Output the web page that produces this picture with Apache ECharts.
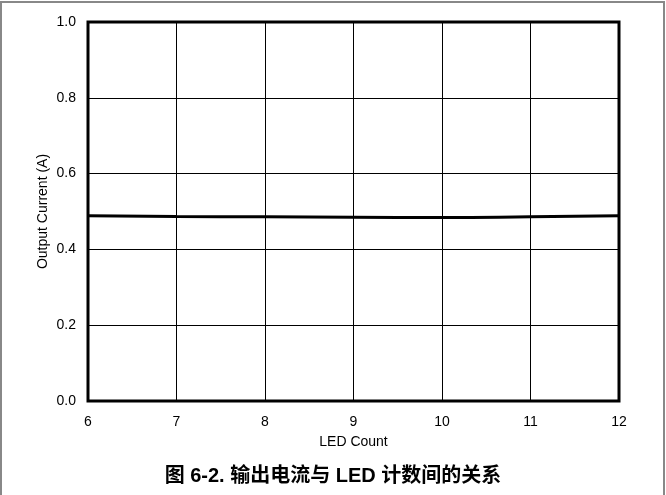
<!DOCTYPE html>
<html>
<head>
<meta charset="utf-8">
<script src="https://cdn.jsdelivr.net/npm/echarts@6/dist/echarts.min.js"></script>
<style>
  html, body { margin: 0; padding: 0; background: #fff; }
  #chart { width: 666px; height: 495px; }
</style>
</head>
<body>
<div id="chart"></div>
<script>
// LED count vs. output current
const ledCount = [6, 7, 8, 9, 10, 11, 12];
const outputCurrent = [0.489, 0.487, 0.486, 0.485, 0.484, 0.486, 0.489];
const yTicks = [0.0, 0.2, 0.4, 0.6, 0.8, 1.0];

const titleText = '图 6-2. 输出电流与 LED 计数间的关系';
const font = '"Liberation Sans", Arial, sans-serif';

const chart = echarts.init(document.getElementById('chart'), null, { renderer: 'canvas' });

chart.setOption({
  animation: false,
  backgroundColor: '#fff',
  grid: {
    left: 88, top: 22, right: 47, bottom: 94,
    show: true, borderColor: '#000', borderWidth: 3
  },
  graphic: [
    {
      type: 'rect',
      shape: { x: 1, y: 2, width: 663, height: 500 },
      style: { fill: 'none', stroke: '#888', lineWidth: 2 },
      silent: true
    },
    {
      type: 'text',
      left: 'center',
      top: 466,
      style: {
        text: titleText,
        font: 'bold 20px "Liberation Sans", "Noto Sans CJK SC", sans-serif',
        fill: '#000'
      }
    }
  ],
  xAxis: {
    type: 'value',
    min: ledCount[0],
    max: ledCount[ledCount.length - 1],
    interval: 1,
    name: 'LED Count',
    nameLocation: 'middle',
    nameGap: 34,
    nameTextStyle: { fontFamily: font, fontSize: 14, color: '#000' },
    axisLine: { show: false },
    axisTick: { show: false },
    axisLabel: { fontFamily: font, fontSize: 14, color: '#000', margin: 14 },
    splitLine: { show: true, lineStyle: { color: '#000', width: 1 } }
  },
  yAxis: {
    type: 'value',
    min: yTicks[0],
    max: yTicks[yTicks.length - 1],
    interval: 0.2,
    name: 'Output Current (A)',
    nameLocation: 'middle',
    nameGap: 38,
    nameMoveOverlap: false,
    nameTextStyle: { fontFamily: font, fontSize: 14, color: '#000' },
    axisLine: { show: false },
    axisTick: { show: false },
    axisLabel: {
      fontFamily: font, fontSize: 14, color: '#000', margin: 12,
      formatter: v => v.toFixed(1)
    },
    splitLine: { show: true, lineStyle: { color: '#000', width: 1 } }
  },
  series: [{
    type: 'line',
    data: ledCount.map((x, i) => [x, outputCurrent[i]]),
    smooth: true,
    showSymbol: false,
    lineStyle: { color: '#000', width: 3 },
    z: 3
  }]
});
</script>
</body>
</html>
